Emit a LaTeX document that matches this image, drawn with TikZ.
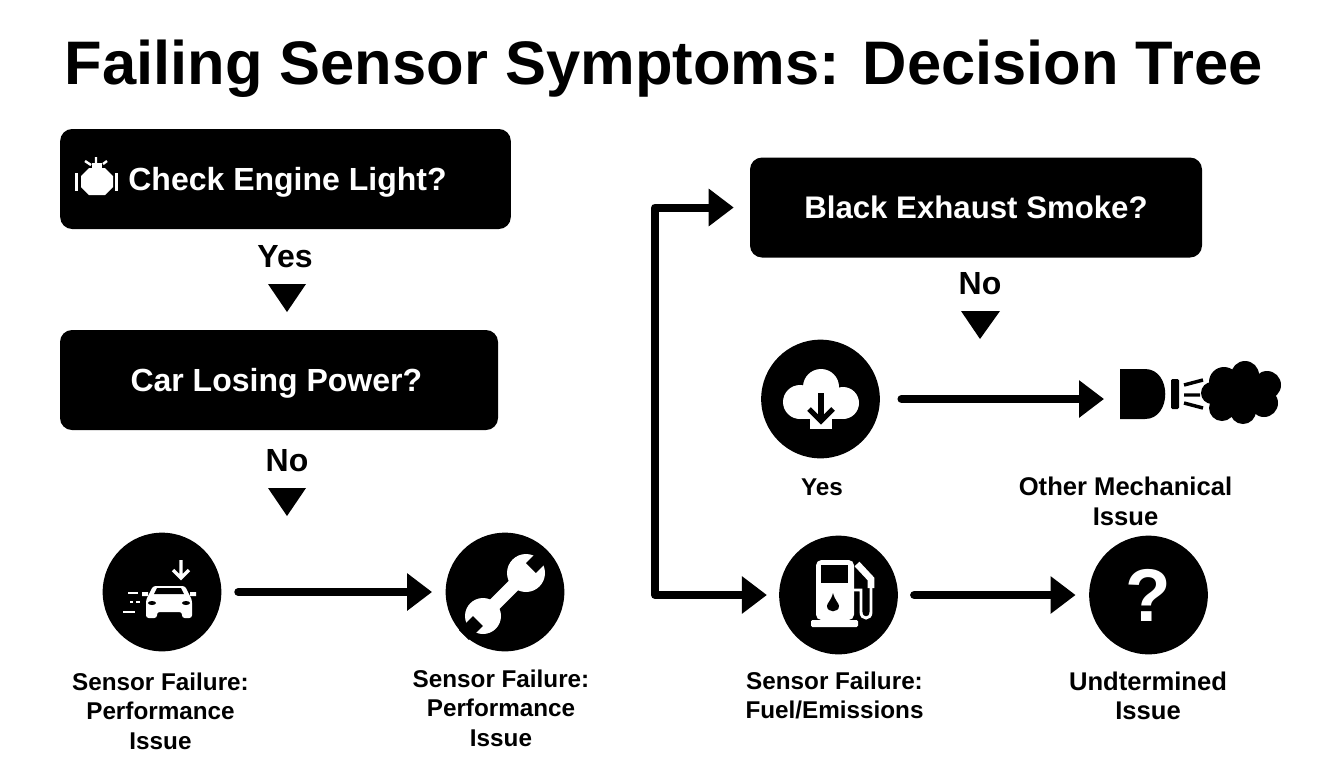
\documentclass[tikz,border=0pt]{standalone}
\usepackage{fontspec}
\setmainfont{Liberation Sans}
\usetikzlibrary{arrows.meta}
\tikzset{
  qbox/.style={fill=black,text=white,rounded corners=9pt,minimum height=75pt,inner sep=0pt,text height=17pt,text depth=0pt,font=\fontsize{24}{28}\selectfont\bfseries},
  dot/.style={circle,fill=black,minimum size=89pt,inner sep=0pt},
  lab/.style={align=center,inner sep=0pt,font=\fontsize{18.2}{22.1}\selectfont\bfseries},
  biglab/.style={lab,font=\fontsize{19.2}{22.1}\selectfont\bfseries},
  ans/.style={inner sep=0pt,font=\fontsize{24}{28}\selectfont\bfseries},
  flow/.style={line width=6pt,line cap=round,-{Triangle[length=18.75pt,width=27pt]}},
}
\begin{document}
\begin{tikzpicture}[x=0.75pt,y=0.75pt,yscale=-1,xscale=1]
        \useasboundingbox (0,0) rectangle (1344,768);
        \node (title) [inner sep=0pt,font=\fontsize{46.1}{50}\selectfont\bfseries] at (663.5,69) {Failing Sensor Symptoms: Decision Tree};

        \node (engineq) [qbox,minimum width=338pt] at (285.5,179) {\hspace*{3pt}Check Engine Light?};
        \node (powerq) [qbox,minimum width=328.5pt] at (279,380) {Car Losing Power?\hspace*{4pt}};
        \node (smokeq) [qbox,minimum width=339pt,font=\fontsize{23.4}{28}\selectfont\bfseries] at (976,207.5) {Black Exhaust Smoke?};

        \node (yesa) [ans] at (285,257) {Yes};
        \node (noa) [ans] at (287,461) {No};
        \node (nob) [ans] at (980,284) {No};
        \fill (268,284) -- (306,284) -- (287,312) -- cycle;
        \fill (268,488) -- (306,488) -- (287,516) -- cycle;
        \fill (961,311) -- (1000,311) -- (980,339) -- cycle;

        \node (car) [dot] at (162,592) {};
        \node (wrench) [dot] at (505,592) {};
        \node (cloud) [dot] at (820.5,399) {};
        \node (pump) [dot] at (838.5,595) {};
        \node (quest) [dot,text=white,font=\fontsize{56}{60}\selectfont\bfseries] at (1148.5,595) {?};
        \coordinate (smoke) at (1120,399);
        \coordinate (turn) at (655,400);

        \draw [flow,shorten <=12.5pt,shorten >=10pt] (car.east) -- (wrench.west);
        \draw [flow,shorten <=16pt,shorten >=12pt] (cloud.east) -- (smoke);
        \draw [flow,shorten <=12pt,shorten >=10pt] (pump.east) -- (quest.west);
        \draw [line width=6pt,line join=round,{Triangle[length=18.75pt,width=27pt]}-{Triangle[length=18.75pt,width=27pt]},shorten <=12pt,shorten >=9pt] (smokeq.west) -| (turn) |- (pump.west);

        \node (yesb) [lab] at (822,487) {Yes};
        \node (other) [biglab] at (1125.5,501.5) {Other Mechanical\\Issue};
        \node (perfa) [lab] at (160.5,711) {Sensor Failure:\\Performance\\Issue};
        \node (perfb) [lab] at (501,708) {Sensor Failure:\\Performance\\Issue};
        \node (fuel) [lab] at (834.5,695.5) {Sensor Failure:\\Fuel/Emissions};
        \node (undet) [biglab] at (1148,696) {Undtermined\\Issue};

        \fill [white] (89,168) -- (105,168) -- (113,176) -- (113,187) -- (105,195) -- (89,195) -- (81,187) -- (81,176) -- cycle;
        \fill [white] (92,163) rectangle (102,170);
        \fill [white] (75,173) rectangle (78,191);
        \fill [white] (114.5,173) rectangle (118,191);
        \draw [white,line width=1.8pt] (85,161) -- (91,165) (96,157) -- (96,163) (107,161) -- (103,164);

        \fill [white,rounded corners=2pt] (146,618) -- (146,600) -- (153,586) -- (185,586) -- (192,600) -- (192,618) -- (182,618) -- (182,612) -- (157,612) -- (157,618) -- cycle;
        \fill [black] (154,594) -- (157,588) -- (181,588) -- (184,594) -- cycle;
        \fill [black] (152,603) ellipse [x radius=4,y radius=2] (186,603) ellipse [x radius=4,y radius=2];
        \fill [white] (142,592) rectangle (148,596) (190,592) rectangle (196,596);
        \draw [white,line width=1.8pt] (128,593) -- (138,593) (130,602) -- (133,602) (136,602) -- (140,602) (123,612) -- (135,612);
        \draw [white,line width=2.6pt] (181,560) -- (181,576) (173,570) -- (181,578) -- (189,570);

        \draw [white,line width=10pt] (483,616) -- (526,573);
        \fill [white] (526,573) circle [radius=19];
        \fill [white] (483,616) circle [radius=18];
        \draw [black,line width=10.5pt] (531,568) -- (545,554) (478,621) -- (464,635);

        \fill [white] (821,387) circle [radius=18];
        \fill [white] (800,402) circle [radius=17];
        \fill [white] (843,403) circle [radius=16];
        \fill [white] (800,395) rectangle (843,419);
        \fill [white] (810,415) rectangle (832,429);
        \draw [black,line width=3.8pt] (821,393) -- (821,421);
        \draw [black,line width=3.8pt] (809,409) -- (821,421) -- (833,409);

        \fill [white,rounded corners=4pt] (816,620) -- (816,560) -- (854,560) -- (854,620) -- cycle;
        \fill [white,rounded corners=1pt] (811,620) rectangle (858,627);
        \fill [black] (821,565) rectangle (848,583);
        \fill [black] (833,593) .. controls (831,601) and (827,603) .. (827,606) .. controls (827,613) and (839,613) .. (839,606) .. controls (839,603) and (835,601) .. (833,593) -- cycle;
        \draw [white,line cap=round,line width=2.2pt] (854,590) -- (861,590) -- (861,612) .. controls (861,620) and (871,620) .. (871,612) -- (871,582);
        \draw [white,line width=5pt] (857,564) -- (871,579) -- (871,588);

        \fill (1120,369) -- (1145,369) .. controls (1172,369) and (1172,419) .. (1145,419) -- (1120,419) -- cycle;
        \fill [rounded corners=1pt] (1171,379) rectangle (1179,409);
        \draw [line width=2.6pt] (1184,385) -- (1203,380) (1184,395) -- (1200,395) (1184,403) -- (1203,408);
        \fill (1240,393) circle [radius=22] (1245,375) circle [radius=14] (1224,382) circle [radius=15] (1267,385) circle [radius=14] (1212,393) circle [radius=11] (1264,403) circle [radius=14] (1243,411) circle [radius=13] (1222,408) circle [radius=13];
    \end{tikzpicture}
\end{document}
